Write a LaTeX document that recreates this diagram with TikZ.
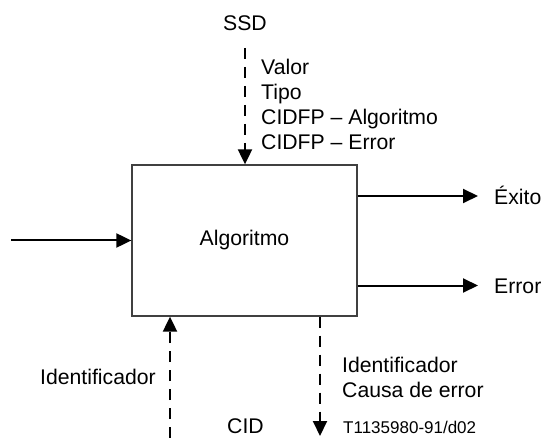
\documentclass[tikz,border=0pt]{standalone}
\usepackage{fontspec}
\setmainfont{Liberation Sans}
\usetikzlibrary{arrows.meta}
\begin{document}
\begin{tikzpicture}[x=1bp,y=-1bp,
  lbl/.style={inner sep=0pt,anchor=base west,font=\fontsize{21.2bp}{25bp}\selectfont},
  small/.style={inner sep=0pt,anchor=base west,font=\fontsize{17bp}{20bp}\selectfont},
  tip/.style={-{Triangle[length=15bp,width=14bp]}},
  flow/.style={line width=2bp,tip},
  dflow/.style={line width=2bp,tip,dash pattern=on 11bp off 8bp},
  block/.style={draw=black!75,line width=1.3bp,minimum width=225bp,minimum height=151bp,inner sep=0pt,font=\fontsize{21.2bp}{25bp}\selectfont}]
\useasboundingbox (0,0) rectangle (543,438);
\node[block] (algo) at (244.5,240.5) {Algoritmo};
% top input
\coordinate (ssdend) at (245,48);
\node[lbl,anchor=base] (ssd) at (245,31) {SSD};
\draw[dflow] (ssdend) -- (ssdend |- algo.north);
\node[lbl] (valor) at (261,75) {Valor};
\node[lbl] (tipo) at (261,100) {Tipo};
\node[lbl] (cidfpa) at (261,125) {CIDFP – Algoritmo};
\node[lbl] (cidfpe) at (261,150) {CIDFP – Error};
% left input
\coordinate (inl) at (11,240.5);
\draw[flow] (inl) -- (algo.west);
% right outputs
\coordinate (exend) at (478,196);
\coordinate (erend) at (478,285.5);
\draw[flow] (algo.east |- exend) -- (exend);
\draw[flow] (algo.east |- erend) -- (erend);
\node[lbl] (exito) at (494,204.5) {Éxito};
\node[lbl] (error) at (494,293.5) {Error};
% bottom
\coordinate (cidin) at (170,438);
\draw[dflow] (cidin) -- (cidin |- algo.south);
\coordinate (outd) at (320,436);
\draw[dflow] (outd |- algo.south) -- (outd);
\node[lbl] (ident1) at (40,384) {Identificador};
\node[lbl] (ident2) at (342,372) {Identificador};
\node[lbl] (causa) at (342,397) {Causa de error};
\node[lbl] (cid) at (227,433.5) {CID};
\node[small] (ref) at (343,433.5) {T1135980-91/d02};
\end{tikzpicture}
\end{document}
